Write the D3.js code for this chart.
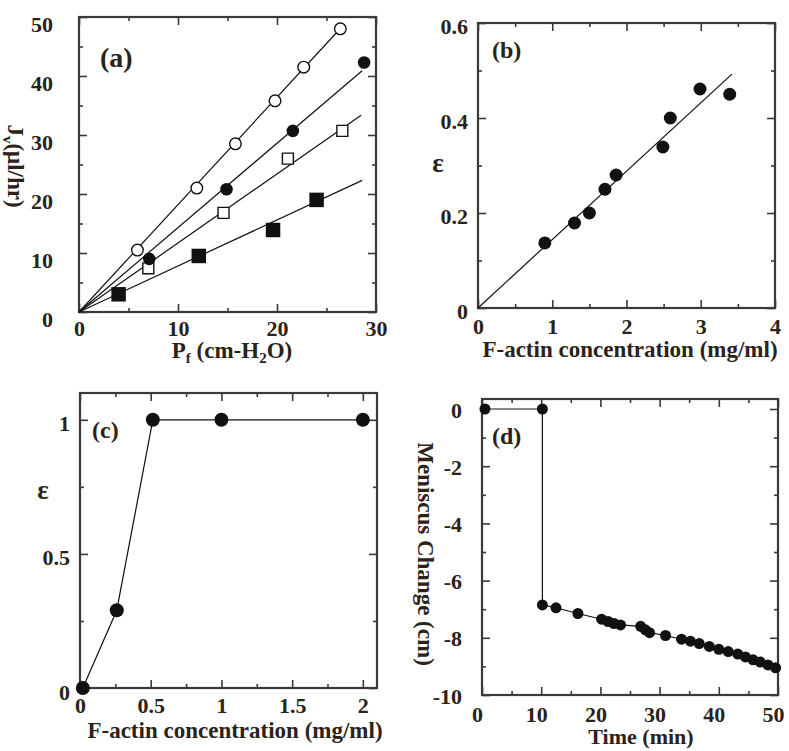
<!DOCTYPE html>
<html>
<head>
<meta charset="utf-8">
<script src="https://cdn.jsdelivr.net/npm/d3@7"></script>
<style>
  body { margin: 0; background: #fff; }
  svg text { font-family: "Liberation Serif", "Times New Roman", serif; font-weight: bold; fill: #2b2218; }
</style>
</head>
<body>
<svg id="fig" width="789" height="751"></svg>
<script>
/* Four-panel figure: flow vs pressure, epsilon vs F-actin, meniscus vs time */

// (a) volume flow vs filtration pressure, four series
const aOpenCircleX = [5.9, 11.9, 15.8, 19.8, 22.7, 26.4];
const aOpenCircleY = [10.5, 21.0, 28.5, 35.8, 41.5, 48.0];
const aFilledCircleX = [7.1, 14.9, 21.6, 28.8];
const aFilledCircleY = [9.0, 20.8, 30.7, 42.3];
const aOpenSquareX = [7.0, 14.6, 21.1, 26.6];
const aOpenSquareY = [7.4, 16.8, 26.0, 30.7];
const aFilledSquareX = [4.0, 12.1, 19.6, 24.0];
const aFilledSquareY = [3.0, 9.5, 13.9, 19.0];
// fitted lines through the origin: slope and last x
const aFitSlope = [1.82, 1.43, 1.17, 0.78];
const aFitEnd = [26.4, 28.6, 28.5, 28.6];
const aXTicks = [0, 10, 20, 30];
const aXMinor = [5, 15, 25];
const aYTicks = [0, 10, 20, 30, 40, 50];
const aYMinor = [5, 15, 25, 35, 45];

// (b) epsilon vs F-actin concentration
const bConc = [0.9, 1.3, 1.5, 1.71, 1.86, 2.49, 2.59, 2.99, 3.39];
const bEps = [0.137, 0.179, 0.2, 0.25, 0.28, 0.339, 0.4, 0.461, 0.45];
const bFitSlope = 0.144;
const bFitEnd = 3.42;
const bXTicks = [0, 1, 2, 3, 4];
const bXMinor = [0.5, 1.5, 2.5, 3.5];
const bYTicks = [0, 0.2, 0.4, 0.6];
const bYMinor = [0.1, 0.3, 0.5];

// (c) epsilon vs F-actin concentration, low range
const cConc = [0.02, 0.26, 0.515, 1.0, 2.0];
const cEps = [0, 0.29, 1, 1, 1];
const cXTicks = [0, 0.5, 1, 1.5, 2];
const cXMinor = [0.25, 0.75, 1.25, 1.75];
const cYTicks = [0, 0.5, 1];
const cYMinor = [0.25, 0.75];

// (d) meniscus change vs time
const dTime = [0.5, 10.2, 10.2, 12.5, 16.2, 20.2, 21.3, 22.3, 23.4, 26.8, 27.6, 28.3,
  31.0, 33.7, 35.2, 36.7, 38.4, 40.0, 41.6, 43.2, 44.5, 45.8, 47.0, 48.3, 49.6];
const dChange = [0, 0, -6.85, -6.95, -7.15, -7.35, -7.43, -7.5, -7.55, -7.6, -7.72, -7.82,
  -7.92, -8.05, -8.12, -8.2, -8.3, -8.4, -8.48, -8.57, -8.67, -8.77, -8.85, -8.95, -9.05];
const dXTicks = [0, 10, 20, 30, 40, 50];
const dXMinor = [5, 15, 25, 35, 45];
const dYTicks = [0, -2, -4, -6, -8, -10];
const dYMinor = [-1, -3, -5, -7, -9];

const svg = d3.select("#fig");
const ink = "#111";
const frameColor = "#3a3a3a";

function makePanel(p) {
  const x = d3.scaleLinear().domain(p.xDomain).range([p.left, p.right]);
  const y = d3.scaleLinear().domain(p.yDomain).range([p.bottom, p.top]);
  const g = svg.append("g");

  // inward ticks on every side
  const sides = [
    [d3.axisBottom, x, `translate(0,${p.bottom})`, p.xMajor, p.xMinor],
    [d3.axisTop, x, `translate(0,${p.top})`, p.xMajor, p.xMinor],
    [d3.axisLeft, y, `translate(${p.left},0)`, p.yMajor, p.yMinor],
    [d3.axisRight, y, `translate(${p.right},0)`, p.yMajor, p.yMinor],
  ];
  sides.forEach(([axis, s, tr, major, minor]) => {
    [[major, 8], [minor, 4]].forEach(([vals, len]) => {
      g.append("g")
        .attr("transform", tr)
        .call(axis(s).tickValues(vals).tickSize(-len).tickFormat(""))
        .call((a) => a.select(".domain").remove())
        .selectAll("line")
        .attr("stroke", frameColor)
        .attr("stroke-width", 1.6);
    });
  });

  g.append("rect")
    .attr("x", p.left)
    .attr("y", p.top)
    .attr("width", p.right - p.left)
    .attr("height", p.bottom - p.top)
    .attr("fill", "none")
    .attr("stroke", frameColor)
    .attr("stroke-width", 2.2);

  // tick labels
  g.append("g")
    .attr("transform", `translate(${p.xShift},${p.bottom})`)
    .call(d3.axisBottom(x).tickValues(p.xMajor).tickSize(0).tickPadding(p.xPad).tickFormat((d) => d))
    .call((a) => a.select(".domain").remove())
    .selectAll("text")
    .attr("font-size", 22);

  g.append("g")
    .attr("transform", `translate(${p.left},${p.yShift})`)
    .call(d3.axisLeft(y).tickValues(p.yMajor).tickSize(0).tickPadding(p.yPad).tickFormat((d) => d))
    .call((a) => a.select(".domain").remove())
    .selectAll("text")
    .attr("font-size", 22);

  g.append("text")
    .attr("x", p.tagX)
    .attr("y", p.tagY)
    .attr("font-size", p.tagSize)
    .text(p.tag);

  p.draw(g, x, y);
  return g;
}

function openCircle(g, xs, ys, x, y, r) {
  g.append("g")
    .selectAll("circle")
    .data(xs)
    .join("circle")
    .attr("cx", (d) => x(d))
    .attr("cy", (d, i) => y(ys[i]))
    .attr("r", r)
    .attr("fill", "#fff")
    .attr("stroke", ink)
    .attr("stroke-width", 1.4);
}

function filledCircle(g, xs, ys, x, y, r) {
  g.append("g")
    .selectAll("circle")
    .data(xs)
    .join("circle")
    .attr("cx", (d) => x(d))
    .attr("cy", (d, i) => y(ys[i]))
    .attr("r", r)
    .attr("fill", ink);
}

function squares(g, xs, ys, x, y, size, open) {
  g.append("g")
    .selectAll("path")
    .data(xs)
    .join("path")
    .attr("d", d3.symbol().type(d3.symbolSquare).size(size))
    .attr("transform", (d, i) => `translate(${x(d)},${y(ys[i])})`)
    .attr("fill", open ? "#fff" : ink)
    .attr("stroke", open ? ink : "none")
    .attr("stroke-width", 1.4);
}

const line = (x, y) => d3.line().x((d) => x(d[0])).y((d) => y(d[1]));

// (a)
makePanel({
  xDomain: [0, 30], yDomain: [0, 50],
  left: 79, right: 376, top: 17, bottom: 312,
  xMajor: aXTicks, xMinor: aXMinor, yMajor: aYTicks, yMinor: aYMinor,
  xPad: 8, xShift: 0, yPad: 26, yShift: 7,
  tag: "(a)", tagX: 100, tagY: 67, tagSize: 28,
  draw(g, x, y) {
    aFitSlope.forEach((m, i) => {
      g.append("path")
        .attr("d", line(x, y)([[0, 0], [aFitEnd[i], m * aFitEnd[i]]]))
        .attr("stroke", ink)
        .attr("stroke-width", 1.2)
        .attr("fill", "none");
    });
    squares(g, aFilledSquareX, aFilledSquareY, x, y, 210, false);
    squares(g, aOpenSquareX, aOpenSquareY, x, y, 120, true);
    filledCircle(g, aFilledCircleX, aFilledCircleY, x, y, 6.3);
    openCircle(g, aOpenCircleX, aOpenCircleY, x, y, 5.8);

    const xt = g.append("text").attr("x", 232).attr("y", 358).attr("text-anchor", "middle").attr("font-size", 23);
    xt.append("tspan").text("P");
    xt.append("tspan").attr("font-size", 15).attr("dy", 5).text("f");
    xt.append("tspan").attr("dy", -5).text(" (cm-H");
    xt.append("tspan").attr("font-size", 15).attr("dy", 5).text("2");
    xt.append("tspan").attr("dy", -5).text("O)");

    const yt = g.append("text")
      .attr("transform", "translate(8,166) rotate(90)")
      .attr("text-anchor", "middle")
      .attr("font-size", 23);
    yt.append("tspan").text("J");
    yt.append("tspan").attr("font-size", 15).attr("dy", 5).text("v");
    yt.append("tspan").attr("dy", -5).text("(μl/hr)");
  },
});

// (b)
makePanel({
  xDomain: [0, 4], yDomain: [0, 0.6],
  left: 478, right: 775, top: 23, bottom: 308,
  xMajor: bXTicks, xMinor: bXMinor, yMajor: bYTicks, yMinor: bYMinor,
  xPad: 10, xShift: 0, yPad: 10, yShift: 3,
  tag: "(b)", tagX: 492, tagY: 58, tagSize: 24,
  draw(g, x, y) {
    g.append("path")
      .attr("d", line(x, y)([[0, 0], [bFitEnd, bFitSlope * bFitEnd]]))
      .attr("stroke", ink)
      .attr("stroke-width", 1.2)
      .attr("fill", "none");
    filledCircle(g, bConc, bEps, x, y, 6.5);

    g.append("text").attr("x", 630).attr("y", 357).attr("text-anchor", "middle")
      .attr("font-size", 23).text("F-actin concentration (mg/ml)");
    g.append("text").attr("x", 438).attr("y", 172).attr("text-anchor", "middle")
      .attr("font-size", 27).text("ε");
  },
});

// (c)
makePanel({
  xDomain: [0, 2.1], yDomain: [0, 1.1],
  left: 80, right: 377, top: 393, bottom: 688,
  xMajor: cXTicks, xMinor: cXMinor, yMajor: cYTicks, yMinor: cYMinor,
  xPad: 9, xShift: 0, yPad: 10, yShift: 4,
  tag: "(c)", tagX: 92, tagY: 438, tagSize: 24,
  draw(g, x, y) {
    const pts = cConc.map((c, i) => [c, cEps[i]]);
    g.append("path")
      .attr("d", line(x, y)(pts))
      .attr("stroke", ink)
      .attr("stroke-width", 1.2)
      .attr("fill", "none");
    filledCircle(g, cConc, cEps, x, y, 7);

    g.append("text").attr("x", 235).attr("y", 738).attr("text-anchor", "middle")
      .attr("font-size", 23).text("F-actin concentration (mg/ml)");
    g.append("text").attr("x", 43).attr("y", 499).attr("text-anchor", "middle")
      .attr("font-size", 27).text("ε");
  },
});

// (d)
makePanel({
  xDomain: [0, 50], yDomain: [-10, 0.35],
  left: 482, right: 778, top: 399, bottom: 695,
  xMajor: dXTicks, xMinor: dXMinor, yMajor: dYTicks, yMinor: dYMinor,
  xPad: 11, xShift: -5, yPad: 20, yShift: 1,
  tag: "(d)", tagX: 492, tagY: 444, tagSize: 24,
  draw(g, x, y) {
    const pts = dTime.map((t, i) => [t, dChange[i]]);
    g.append("path")
      .attr("d", line(x, y)(pts))
      .attr("stroke", ink)
      .attr("stroke-width", 1.2)
      .attr("fill", "none");
    filledCircle(g, dTime, dChange, x, y, 5.5);

    g.append("text").attr("x", 641).attr("y", 744).attr("text-anchor", "middle")
      .attr("font-size", 22).text("Time (min)");
    g.append("text")
      .attr("transform", "translate(418,554) rotate(90)")
      .attr("text-anchor", "middle")
      .attr("font-size", 23)
      .text("Meniscus Change (cm)");
  },
});
</script>
</body>
</html>
